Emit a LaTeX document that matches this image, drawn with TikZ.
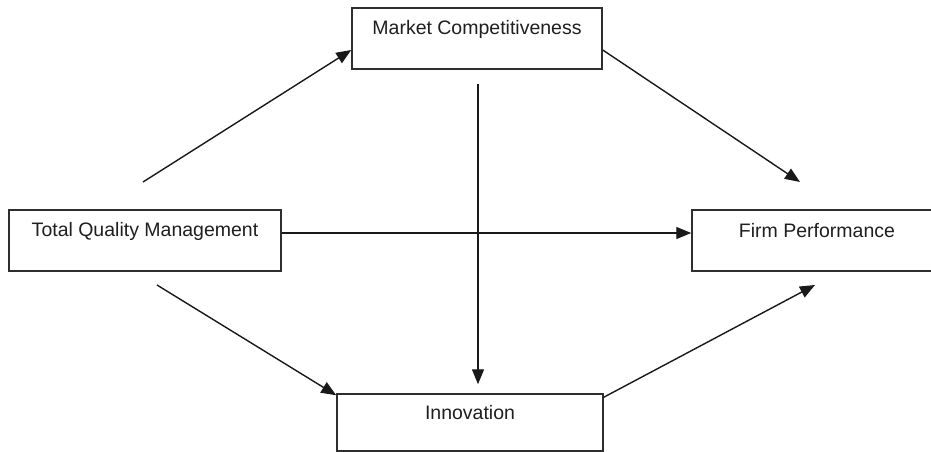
\documentclass[tikz,border=0pt]{standalone}
\usepackage{fontspec}
\setmainfont{Liberation Sans}
\usetikzlibrary{arrows.meta}

\begin{document}
\begin{tikzpicture}[
  x=1pt, y=-1pt,
  box/.style={draw=black!82, line width=1.5pt, fill=white, inner sep=0pt},
  lbl/.style={text=black!88, inner sep=0pt, font=\fontsize{19.5}{23}\selectfont},
  arr/.style={draw=black!90, line width=1.4pt, -{Triangle[length=15pt,width=12pt]}},
]
\useasboundingbox (0,0) rectangle (931,452);
\clip (0,0) rectangle (931,452);
\fill[white] (0,0) rectangle (931,452);

% boxes (the performance box runs past the right margin)
\node[box, minimum width=250pt, minimum height=61pt] (mc)  at (477,38.5)  {};
\node[box, minimum width=272pt, minimum height=61pt] (tqm) at (145,240.5) {};
\node[box, minimum width=260pt, minimum height=61pt] (fp)  at (822,240.5) {};
\node[box, minimum width=266pt, minimum height=57pt] (inn) at (470,422.5) {};

% labels, set in the upper part of each box
\node[lbl] (mclbl)  at (477,29)  {Market Competitiveness};
\node[lbl] (tqmlbl) at (145,231) {Total Quality Management};
\node[lbl] (fplbl)  at (817,231) {Firm Performance};
\node[lbl] (innlbl) at (470,413) {Innovation};

% free ends of the connectors
\coordinate (tqmup)  at (143,182);
\coordinate (fptop)  at (800,182);
\coordinate (mcdown) at (478,84);
\coordinate (tqmdn)  at (157,285);
\coordinate (fpbot)  at (815,285);

% connectors
\draw[arr] (tqmup) -- ([yshift=-11.5pt]mc.west);
\draw[arr] ([yshift=-11.5pt]mc.east) -- (fptop);
\draw[arr, shorten >=9pt] (mcdown) -- (mcdown |- inn.north);
\draw[arr] ([yshift=7.5pt]tqm.east) -- ([yshift=7.5pt]fp.west);
\draw[arr] (tqmdn) -- ([yshift=-2pt]inn.north west);
\draw[arr] ([yshift=-4pt]inn.north east) -- (fpbot);
\end{tikzpicture}
\end{document}
